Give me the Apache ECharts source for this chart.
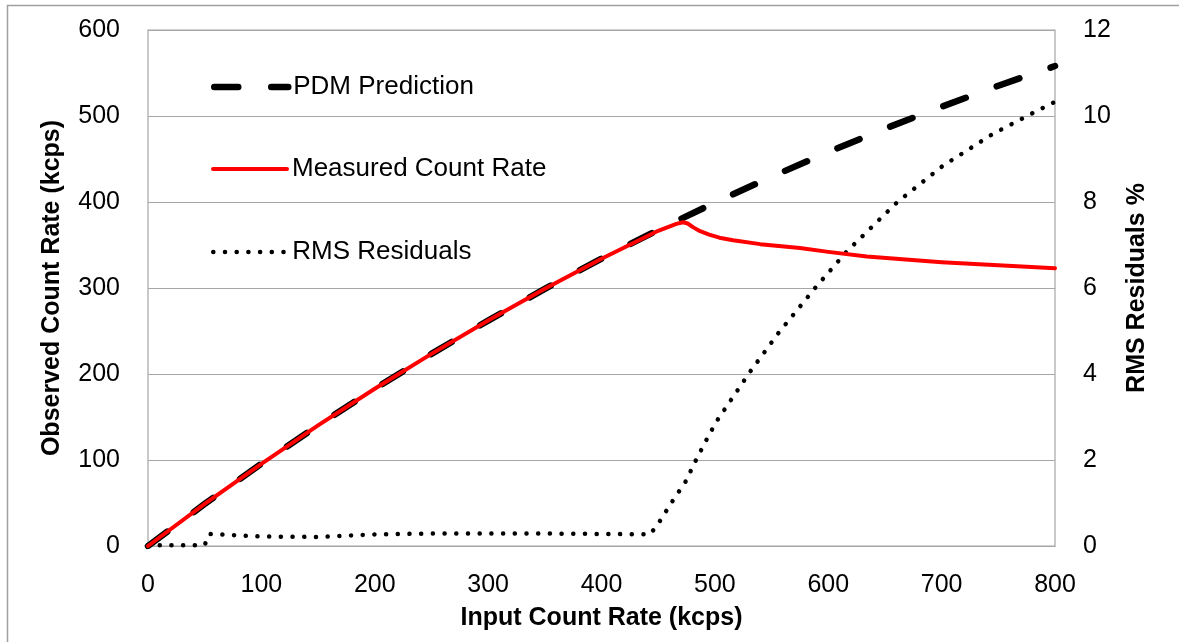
<!DOCTYPE html>
<html>
<head>
<meta charset="utf-8">
<script src="https://cdn.jsdelivr.net/npm/echarts@6/dist/echarts.min.js"></script>
<style>
  html, body { margin: 0; padding: 0; background: #fff; }
  #chart { width: 1179px; height: 642px; }
</style>
</head>
<body>
<div id="chart"></div>
<script>
// values
var pdmInput = [0, 50, 100, 150, 200, 250, 300, 350, 400, 450, 500, 550, 600, 650, 700, 750, 800];
var pdmRate = [0, 48.9, 95.6, 140.2, 182.8, 223.4, 262.1, 299.0, 334.1, 367.6, 399.3, 429.4, 458.0, 485.3, 510.8, 535.2, 558.1];

var measInput = [0, 50, 100, 150, 200, 250, 300, 350, 400, 450, 466, 472, 476, 481, 487, 495, 504, 516, 540, 575, 600, 634, 700, 750, 800];
var measRate = [0, 48.9, 95.6, 140.2, 182.8, 223.4, 262.1, 299.0, 334.1, 366.5, 374.5, 376.5, 375, 370.5, 366, 362, 358.5, 355.5, 351, 346.5, 342, 336.5, 330, 326.5, 323];

var resInput = [0, 20, 50, 54, 100, 150, 200, 250, 300, 350, 400, 443, 451, 462, 474, 483, 492, 501, 531, 556, 589, 616, 661, 701, 745, 782, 800];
var resValue = [0.02, 0.02, 0.02, 0.28, 0.22, 0.21, 0.27, 0.29, 0.29, 0.29, 0.28, 0.27, 0.56, 1.02, 1.49, 1.98, 2.44, 2.88, 4.05, 4.95, 6.02, 6.84, 8.0, 8.84, 9.58, 10.09, 10.33];

var xTicks = ['0', '100', '200', '300', '400', '500', '600', '700', '800'];

function pairs(xs, ys) {
  return xs.map(function (x, i) { return [x, ys[i]]; });
}

var font = 'Liberation Sans';
var gridGray = '#a6a6a6';
var titleStyle = { fontFamily: font, fontSize: 25, fontWeight: 'bold', color: '#000' };

var pdmLine = { color: '#000', width: 6.5, type: [24, 33], cap: 'round', join: 'round' };
var measLine = { color: '#ff0000', width: 4, cap: 'round', join: 'round' };
var resLine = { color: '#000', width: 4.5, type: [0.1, 11.6], cap: 'round', join: 'round' };

var myChart = echarts.init(document.getElementById('chart'));
var option = {
  animation: false,
  textStyle: { fontFamily: font, color: '#000' },
  graphic: [{
    type: 'rect',
    shape: { x: 7.5, y: 5.5, width: 1200, height: 700 },
    style: { fill: 'none', stroke: '#a0a0a0', lineWidth: 1.5 },
    silent: true
  }],
  grid: {
    left: 148, right: 124, top: 30, bottom: 96,
    show: true, borderColor: gridGray, borderWidth: 1.2, backgroundColor: 'transparent'
  },
  legend: [
    { data: [{ name: 'PDM Prediction', lineStyle: pdmLine }], top: 74 },
    { data: [{ name: 'Measured Count Rate', lineStyle: measLine }], top: 156 },
    { data: [{ name: 'RMS Residuals', lineStyle: resLine }], top: 239 }
  ].map(function (l) {
    l.left = 211;
    l.padding = 0;
    l.orient = 'vertical';
    l.itemWidth = 74;
    l.itemHeight = 14;
    l.itemGap = 5;
    l.itemStyle = { opacity: 0 };
    l.textStyle = { fontFamily: font, fontSize: 26, color: '#000' };
    return l;
  }),
  xAxis: {
    type: 'value',
    min: 0, max: 800, interval: 100,
    name: 'Input Count Rate (kcps)',
    nameLocation: 'middle',
    nameGap: 60,
    nameTextStyle: titleStyle,
    axisLine: { lineStyle: { color: gridGray, width: 1.2 } },
    axisTick: { show: false },
    splitLine: { show: false },
    axisLabel: {
      fontSize: 25, color: '#000', margin: 27,
      formatter: function (v) { return xTicks[Math.round(v / 100)]; }
    }
  },
  yAxis: [{
    type: 'value',
    min: 0, max: 600, interval: 100,
    name: 'Observed Count Rate (kcps)',
    nameLocation: 'middle',
    nameRotate: 90,
    nameGap: 83,
    nameTextStyle: titleStyle,
    axisLine: { show: false },
    axisTick: { show: false },
    splitLine: { lineStyle: { color: gridGray, width: 1.2 } },
    axisLabel: { fontSize: 25, color: '#000', margin: 28 }
  }, {
    type: 'value',
    position: 'right',
    min: 0, max: 12, interval: 2,
    name: 'RMS Residuals %',
    nameLocation: 'middle',
    nameRotate: 90,
    nameGap: 70,
    nameTextStyle: titleStyle,
    axisLine: { show: false },
    axisTick: { show: false },
    splitLine: { show: false },
    axisLabel: { fontSize: 25, color: '#000', margin: 28 }
  }],
  series: [
    {
      name: 'PDM Prediction',
      type: 'line',
      symbol: 'none',
      lineStyle: pdmLine,
      itemStyle: { color: '#000' },
      data: pairs(pdmInput, pdmRate),
      z: 2
    },
    {
      name: 'Measured Count Rate',
      type: 'line',
      symbol: 'none',
      lineStyle: measLine,
      itemStyle: { color: '#ff0000' },
      data: pairs(measInput, measRate),
      z: 3
    },
    {
      name: 'RMS Residuals',
      type: 'line',
      yAxisIndex: 1,
      symbol: 'none',
      lineStyle: resLine,
      itemStyle: { color: '#000' },
      data: pairs(resInput, resValue),
      z: 2
    }
  ]
};
myChart.setOption(option);
</script>
</body>
</html>
